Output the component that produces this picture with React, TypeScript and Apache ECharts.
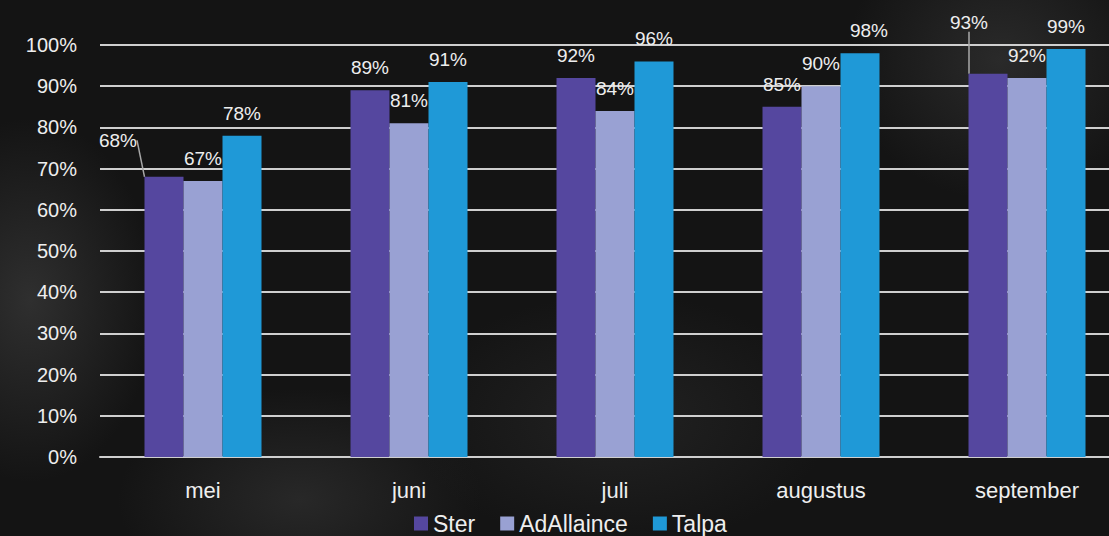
import React, { useEffect, useRef } from 'react';
import * as echarts from 'echarts';

const categories = ['mei', 'juni', 'juli', 'augustus', 'september'];
const seriesNames = ['Ster', 'AdAllaince', 'Talpa'];
const sterValues = [68, 89, 92, 85, 93];
const adAllainceValues = [67, 81, 84, 90, 92];
const talpaValues = [78, 91, 96, 98, 99];
const colors = ['#55479f', '#99a1d3', '#1f99d7'];

// label nudges (seriesIndex-dataIndex -> [dx, dy]) for labels moved off their default spot
const labelShifts: Record<string, [number, number]> = {
  '0-0': [-46, -14],
  '0-4': [-19, -29],
  '2-3': [9, 0],
};
const leaderLines = ['0-0', '0-4'];

const FONT = '"Liberation Sans", Arial, sans-serif';

export default function App() {
  const ref = useRef<HTMLDivElement>(null);
  useEffect(() => {
    if (!ref.current) return;
    const chart = echarts.init(ref.current, undefined, { renderer: 'svg' });
    const allValues = [sterValues, adAllainceValues, talpaValues];
    chart.setOption({
      animation: false,
      backgroundColor: 'transparent',
      textStyle: { fontFamily: FONT },
      grid: { left: 100, top: 45, width: 1030, height: 412, containLabel: false, outerBoundsMode: 'none' },
      legend: {
        data: seriesNames,
        left: 414,
        top: 512,
        padding: 0,
        itemWidth: 14,
        itemHeight: 14,
        itemGap: 25,
        icon: 'rect',
        textStyle: { color: '#eeeeee', fontSize: 23, lineHeight: 23, fontFamily: FONT },
      },
      xAxis: {
        type: 'category',
        data: categories,
        axisLine: { show: true, lineStyle: { color: '#cfcfcf', width: 2 } },
        axisTick: { show: false },
        axisLabel: { color: '#eeeeee', fontSize: 22, margin: 22, fontFamily: FONT },
      },
      yAxis: {
        type: 'value',
        min: 0,
        max: 100,
        interval: 10,
        axisLine: { show: false },
        axisTick: { show: false },
        axisLabel: { formatter: '{value}%', color: '#eeeeee', fontSize: 20, margin: 23, fontFamily: FONT },
        splitLine: { lineStyle: { color: '#cfcfcf', width: 2 } },
      },
      series: seriesNames.map((name, si) => ({
        name,
        type: 'bar',
        barWidth: 39,
        barGap: '0%',
        itemStyle: { color: colors[si] },
        label: {
          show: true,
          position: 'top',
          distance: 13,
          formatter: '{c}%',
          color: '#eeeeee',
          fontSize: 19,
          fontFamily: FONT,
        },
        labelLine: { show: false },
        data: allValues[si].map((v, di) => {
          const key = si + '-' + di;
          return leaderLines.includes(key)
            ? { value: v, labelLine: { show: true, lineStyle: { color: '#a8a8a8', width: 1.5 } } }
            : { value: v };
        }),
        labelLayout: (p: any) => {
          const s = labelShifts[p.seriesIndex + '-' + p.dataIndex];
          return s ? { dx: s[0], dy: s[1] } : {};
        },
      })),
    });
    return () => chart.dispose();
  }, []);
  return (
    <div
      style={{
        position: 'fixed',
        left: 0,
        top: 0,
        width: 1109,
        height: 536,
        overflow: 'hidden',
        background:
          'radial-gradient(ellipse 180px 260px at 30px 300px, rgba(80,80,80,0.45), transparent 70%),' +
          'radial-gradient(ellipse 260px 160px at 300px 500px, rgba(70,70,70,0.4), transparent 70%),' +
          'radial-gradient(ellipse 220px 200px at 1000px 60px, rgba(75,75,75,0.4), transparent 70%),' +
          'radial-gradient(ellipse 300px 180px at 620px 420px, rgba(60,60,60,0.35), transparent 70%),' +
          '#141414',
      }}
    >
      <div ref={ref} style={{ width: 1109, height: 536 }} />
    </div>
  );
}
